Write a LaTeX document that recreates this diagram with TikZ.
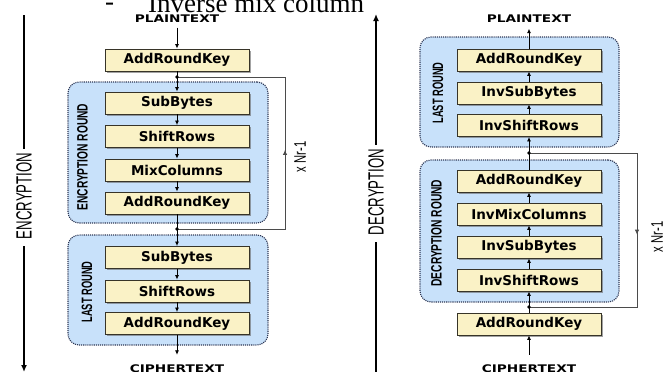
\documentclass[tikz,border=0pt]{standalone}
\usepackage{fontspec}
\setmainfont{Liberation Serif}
\newfontfamily\dvs{DejaVu Sans}
\newfontfamily\lsans{Liberation Sans}
\usetikzlibrary{arrows.meta,shadows,calc}
\definecolor{boxfill}{RGB}{250,242,198}
\definecolor{boxline}{RGB}{55,52,40}
\definecolor{roundfill}{RGB}{200,225,250}
\definecolor{roundline}{RGB}{45,55,85}
\definecolor{loopcol}{RGB}{75,75,75}
\tikzset{
  stepbox/.style={draw=boxline, line width=0.9pt, fill=boxfill,
    minimum width=144pt, minimum height=22pt, inner sep=0pt,
    font=\dvs\bfseries\fontsize{13.5}{14}\selectfont,
    drop shadow={shadow xshift=1.6pt, shadow yshift=-1.6pt, fill=black!60, opacity=0.6}},
  roundbox/.style={draw=roundline, densely dotted, line width=1.1pt, fill=roundfill,
    rounded corners=11pt, inner sep=0pt},
  roundlabel/.style={rotate=90, inner sep=0pt, font=\lsans\bfseries\fontsize{15}{16}\selectfont},
  sidelabel/.style={rotate=90, inner sep=0pt, font=\lsans\fontsize{22}{24}\selectfont},
  looplabel/.style={rotate=90, inner sep=0pt, font=\lsans\fontsize{16.8}{18}\selectfont},
  endtext/.style={inner sep=0pt, font=\dvs\bfseries\fontsize{10.5}{11}\selectfont},
  headtext/.style={anchor=base west, inner sep=0pt, font=\fontsize{27}{30}\selectfont},
  flow/.style={line width=0.8pt, -{Latex[length=4.5pt,width=4pt]}},
  loopline/.style={draw=loopcol, line width=0.8pt},
  looparrow/.style={draw=loopcol, line width=0.8pt, -{Latex[length=5pt,width=4.5pt]}},
  axisline/.style={line width=1.3pt},
  axisarrow/.style={line width=1.3pt, -{Latex[length=7pt,width=6pt]}},
  joint/.style={fill=black}
}
\begin{document}
\begin{tikzpicture}[x=1pt,y=-1pt]
\useasboundingbox (0,0) rectangle (672,372);
\fill[white] (0,0) rectangle (672,372);

% heading (cut off at top)
\node[headtext] (hdash) at (105,10.5) {-};
\node[headtext] (head) at (148,12.3) {Inverse mix column};

% ================= ENCRYPTION =================
\node[roundbox, minimum width=200pt, minimum height=141pt] (encround) at (168,152.5) {};
\node[roundbox, minimum width=200pt, minimum height=110pt] (enclast) at (168,290) {};
\node[roundlabel] (encroundlbl) at (82.5,157) {\scalebox{0.68}[1]{ENCRYPTION ROUND}};
\node[roundlabel] (enclastlbl) at (87,292) {\scalebox{0.62}[1]{LAST ROUND}};

\node[endtext] (eplain) at (177,18.7) {\scalebox{1.3}[1]{PLAINTEXT}};
\node[stepbox] (ea0) at (177,60) {AddRoundKey};
\node[stepbox] (es1) at (177,103) {SubBytes};
\node[stepbox] (er1) at (177,136.5) {ShiftRows};
\node[stepbox] (em1) at (177,170) {MixColumns};
\node[stepbox] (ek1) at (177,203) {AddRoundKey};
\node[stepbox] (es2) at (177,257.5) {SubBytes};
\node[stepbox] (er2) at (177,291) {ShiftRows};
\node[stepbox] (ek2) at (177,323.5) {AddRoundKey};
\node[endtext] (ecipher) at (177,369) {\scalebox{1.3}[1]{CIPHERTEXT}};

\coordinate (ej1) at (177,77);
\coordinate (ej2) at (177,229);
\coordinate (ec1) at (285,229);
\coordinate (ec2) at (285,77);
\draw[loopline] (ej2) -- (ec1) -- (ec2) -- (ej1);
\draw[looparrow] (ec1) -- ($(ec1)!0.52!(ec2)$);
\node[looplabel] (enr) at (300,157) {\scalebox{0.67}[1]{x Nr-1}};

\draw[flow, shorten <=5pt] (eplain) -- (ea0);
\draw[flow] (ea0) -- (es1);
\draw[flow] (es1) -- (er1);
\draw[flow] (er1) -- (em1);
\draw[flow] (em1) -- (ek1);
\draw[flow] (ek1) -- (es2);
\draw[flow] (es2) -- (er2);
\draw[flow] (er2) -- (ek2);
\draw[flow, shorten >=10pt] (ek2) -- (ecipher);
\fill[joint] (ej1) circle (1.8pt);
\fill[joint] (ej2) circle (1.8pt);

% side axis
\node[sidelabel] (enc) at (24,196) {\scalebox{0.6}[1]{ENCRYPTION}};
\coordinate (encTop) at (24,15);
\coordinate (encBot) at (24,372);
\draw[axisline, shorten >=4pt] (encTop) -- (enc.east);
\draw[axisarrow, shorten <=7pt] (enc.west) -- (encBot);

% ================= DECRYPTION =================
\node[roundbox, minimum width=199pt, minimum height=110pt] (declast) at (519.5,92) {};
\node[roundbox, minimum width=199pt, minimum height=142pt] (decround) at (519.5,231) {};
\node[roundlabel] (declastlbl) at (438,93) {\scalebox{0.62}[1]{LAST ROUND}};
\node[roundlabel] (decroundlbl) at (436.5,233) {\scalebox{0.68}[1]{DECRYPTION ROUND}};

\node[endtext] (dplain) at (529,18.7) {\scalebox{1.3}[1]{PLAINTEXT}};
\node[stepbox] (dk2) at (529,60) {AddRoundKey};
\node[stepbox] (ds2) at (529,93) {InvSubBytes};
\node[stepbox] (dr2) at (529,125.5) {InvShiftRows};
\node[stepbox] (dk1) at (529,181) {AddRoundKey};
\node[stepbox] (dm1) at (529,214) {InvMixColumns};
\node[stepbox] (ds1) at (529,247) {InvSubBytes};
\node[stepbox] (dr1) at (529,280) {InvShiftRows};
\node[stepbox] (dk0) at (529,324) {AddRoundKey};
\node[endtext] (dcipher) at (529,369) {\scalebox{1.3}[1]{CIPHERTEXT}};

\coordinate (dj1) at (529,153);
\coordinate (dj2) at (529,307);
\coordinate (dc1) at (637,153);
\coordinate (dc2) at (637,307);
\draw[loopline] (dj1) -- (dc1) -- (dc2) -- (dj2);
\draw[looparrow] (dc1) -- ($(dc1)!0.53!(dc2)$);
\node[looplabel] (dnr) at (657,237) {\scalebox{0.67}[1]{x Nr-1}};

\draw[flow, shorten <=10pt] (dcipher) -- (dk0);
\draw[flow] (dk0) -- (dr1);
\draw[flow] (dr1) -- (ds1);
\draw[flow] (ds1) -- (dm1);
\draw[flow] (dm1) -- (dk1);
\draw[flow] (dk1) -- (dr2);
\draw[flow] (dr2) -- (ds2);
\draw[flow] (ds2) -- (dk2);
\draw[flow, shorten >=6pt] (dk2) -- (dplain);
\fill[joint] (dj1) circle (1.8pt);
\fill[joint] (dj2) circle (1.8pt);

\node[sidelabel] (dec) at (376,192) {\scalebox{0.6}[1]{DECRYPTION}};
\coordinate (decTop) at (376,14);
\coordinate (decBot) at (376,372);
\draw[axisarrow, shorten <=4pt] (dec.east) -- (decTop);
\draw[axisline, shorten <=7pt] (dec.west) -- (decBot);
\end{tikzpicture}
\end{document}
